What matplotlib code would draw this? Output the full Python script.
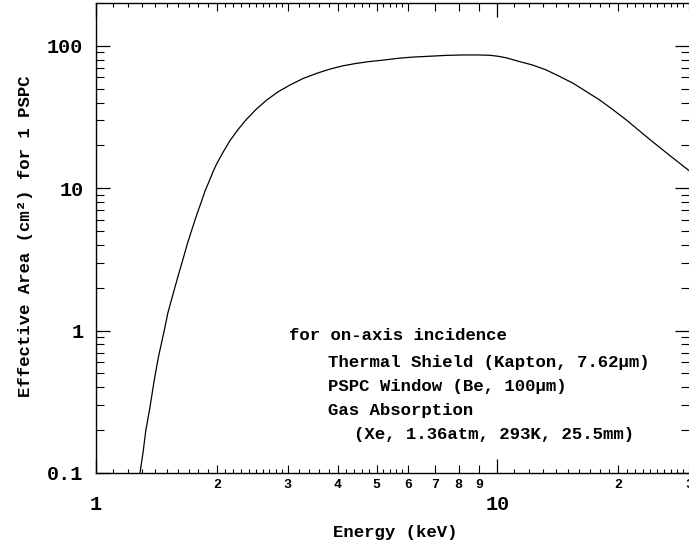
import matplotlib
matplotlib.use("Agg")
import matplotlib.pyplot as plt
from matplotlib.ticker import FixedLocator, NullFormatter

# effective area curve
energy_kev = [1.287, 1.31, 1.331, 1.36, 1.397, 1.43, 1.479, 1.51, 1.551, 1.60,
              1.643, 1.69, 1.740, 1.785, 1.832, 1.87, 1.914, 1.955, 1.997, 2.07,
              2.154, 2.26, 2.371, 2.51, 2.658, 2.84, 3.039, 3.28, 3.54, 3.82,
              4.12, 4.45, 4.80, 5.09, 5.71, 6.16, 7.45, 8.2, 9.02, 9.6,
              10.06, 10.5, 11.34, 12.2, 13.2, 14.2, 15.4, 16.6, 17.94, 19.3,
              20.9, 22.5, 24.3, 27.0, 30.0]
area_cm2 = [0.1, 0.14, 0.2, 0.28, 0.45, 0.65, 1.0, 1.33, 1.75, 2.4,
            3.1, 4.1, 5.3, 6.6, 8.1, 9.6, 11.2, 13.0, 14.8, 17.8,
            21.5, 25.9, 30.5, 36.0, 41.5, 47.5, 53.0, 59.0, 64.0, 68.6,
            72.4, 75.3, 77.6, 78.9, 82.0, 83.4, 85.7, 86.3, 86.3, 85.8,
            84.4, 82.5, 77.6, 73.5, 67.9, 61.5, 54.8, 48.0, 41.8, 36.0,
            30.3, 25.5, 21.3, 16.8, 13.3]

# axis ticks
x_major = [1, 10]
x_major_labels = ["1", "10"]
x_mid = [2, 3, 4, 5, 6, 7, 8, 9, 20, 30]
x_mid_labels = ["2", "3", "4", "5", "6", "7", "8", "9", "2", "3"]
x_small = ([1 + 0.1 * i for i in range(1, 10)] + [2 + 0.1 * i for i in range(1, 10)]
           + [3.2, 3.4, 3.6, 3.8, 4.2, 4.4, 4.6, 4.8, 5.2, 5.4, 5.6, 5.8]
           + list(range(11, 20)) + list(range(21, 30)))
y_major = [0.1, 1, 10, 100]
y_major_labels = ["0.1", "1", "10", "100"]
y_minor = [m * d for d in (0.1, 1, 10, 100) for m in range(2, 10)]

notes = ["for on-axis incidence",
         "Thermal Shield (Kapton, 7.62\u00b5m)",
         "PSPC Window (Be, 100\u00b5m)",
         "Gas Absorption",
         "(Xe, 1.36atm, 293K, 25.5mm)"]

plt.rcParams['font.family'] = ['Liberation Mono', 'DejaVu Sans Mono']
plt.rcParams['font.weight'] = 'bold'
plt.rcParams['axes.labelweight'] = 'bold'

fig = plt.figure(figsize=(6.89, 5.44), dpi=100)
W, H = 689, 544
ax = fig.add_axes([96 / W, (H - 473) / H, (W - 96) / W, (473 - 3.3) / H])

ax.plot(energy_kev, area_cm2, color='black', linewidth=0.9)
ax.set_xscale('log')
ax.set_yscale('log')
ax.set_xlim(1, 30)
ax.set_ylim(0.1, 199)

for s in ax.spines.values():
    s.set_linewidth(1.0)
ax.spines['right'].set_visible(False)

# x ticks: major (1, 10) + labelled minor + small minor
x_minor = x_mid + x_small
x_minor_labels = x_mid_labels + [""] * len(x_small)
ax.xaxis.set_major_locator(FixedLocator(x_major))
ax.set_xticklabels(x_major_labels)
ax.xaxis.set_minor_locator(FixedLocator(x_minor))
ax.set_xticks(x_minor, x_minor_labels, minor=True)
ax.tick_params(axis='x', which='major', direction='in', length=10, width=0.9,
               top=True, labelsize=14.5, pad=16)
ax.tick_params(axis='x', which='minor', direction='in', length=5.5, width=0.8,
               top=True, labelsize=9.5, pad=4.5)
for tick in ax.xaxis.get_minor_ticks()[len(x_mid):]:
    tick.tick1line.set_markersize(3.2)
    tick.tick2line.set_markersize(3.2)

ax.yaxis.set_major_locator(FixedLocator(y_major))
ax.set_yticklabels(y_major_labels)
ax.yaxis.set_minor_locator(FixedLocator(y_minor))
ax.yaxis.set_minor_formatter(NullFormatter())
ax.tick_params(axis='y', which='major', direction='in', length=10, width=0.9,
               right=True, labelsize=14.5, pad=9)
ax.tick_params(axis='y', which='minor', direction='in', length=5.5, width=0.8,
               right=True)

ax.set_xlabel("Energy (keV)", fontsize=12.5, fontweight='bold', va='center')
ax.xaxis.set_label_coords((395 - 96) / 593, (473 - 532.7) / 469.7)
ax.set_ylabel("Effective Area (cm\u00b2) for 1 PSPC", fontsize=12.5,
              fontweight='bold', va='center')
ax.yaxis.set_label_coords((26 - 96) / 593, (473 - 236.5) / 469.7)

note_x = [289, 328, 328, 328, 354]
note_y = [336, 362, 386, 411, 435]
for t, px, py in zip(notes, note_x, note_y):
    ax.text((px - 96) / 593, (473 - py) / 469.7, t, transform=ax.transAxes,
            fontsize=12.5, ha='left', va='center')

plt.savefig('out.png', dpi=100)
